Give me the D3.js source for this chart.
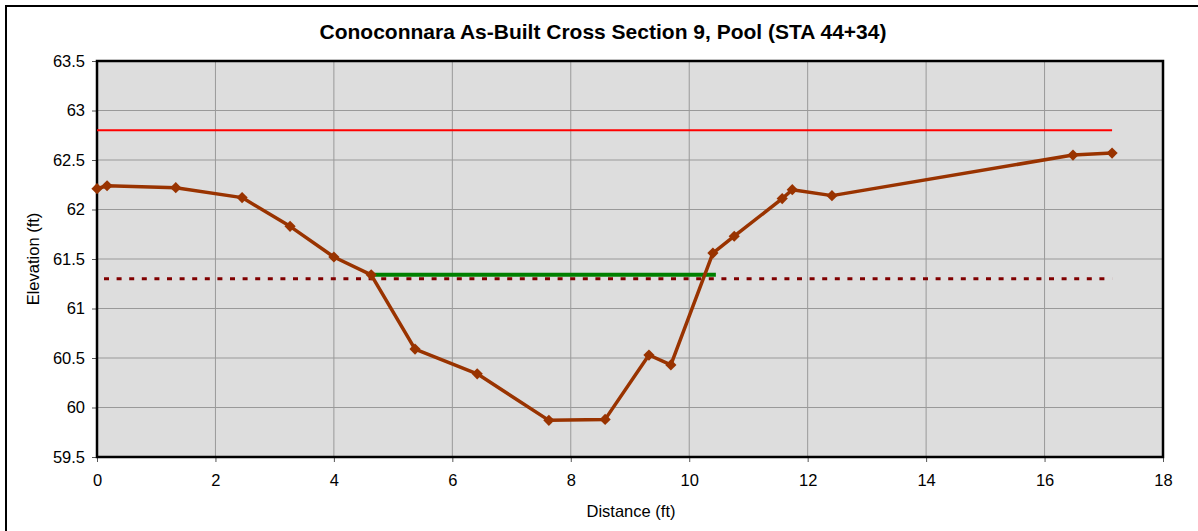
<!DOCTYPE html>
<html><head><meta charset="utf-8">
<script src="https://cdn.jsdelivr.net/npm/d3@7/dist/d3.min.js"></script>
<style>
body{margin:0;background:#fff;}
text{font-family:"Liberation Sans",Arial,sans-serif;}
</style></head>
<body><svg id="c" width="1198" height="531"></svg>
<script>
const title = "Conoconnara As-Built Cross Section 9, Pool (STA 44+34)";
const xLabel = "Distance (ft)";
const yLabel = "Elevation (ft)";
const distance = [0, 0.17, 1.33, 2.45, 3.26, 4.0, 4.63, 5.37, 6.42, 7.63, 8.58, 9.32, 9.69, 10.40, 10.76, 11.57, 11.74, 12.41, 16.48, 17.14];
const elevation = [62.21, 62.24, 62.22, 62.12, 61.83, 61.52, 61.34, 60.59, 60.34, 59.87, 59.88, 60.53, 60.43, 61.56, 61.73, 62.11, 62.20, 62.14, 62.55, 62.57];
const bankfullX = [0, 17.14];
const bankfullY = [62.8, 62.8];
const dashedX = [0, 17.14];
const dashedY = [61.3, 61.3];
const waterX = [4.63, 10.45];
const waterY = [61.34, 61.34];
const xTicks = [0, 2, 4, 6, 8, 10, 12, 14, 16, 18];
const yTicks = [59.5, 60, 60.5, 61, 61.5, 62, 62.5, 63, 63.5];

const svg = d3.select("#c");
const L = 97, R = 1163, T = 61, B = 457;
const x = d3.scaleLinear().domain([0, 18]).range([L, R]);
const y = d3.scaleLinear().domain([59.5, 63.5]).range([B, T]);

// outer frame
svg.append("rect").attr("x", 6).attr("y", 6).attr("width", 1210).attr("height", 560)
  .attr("fill", "#fff").attr("stroke", "#000").attr("stroke-width", 2);

// plot background
svg.append("rect").attr("x", L).attr("y", T).attr("width", R - L).attr("height", B - T).attr("fill", "#dddddd");

// grid
svg.append("g").selectAll("line").data(xTicks).join("line")
  .attr("x1", d => x(d)).attr("x2", d => x(d)).attr("y1", T).attr("y2", B)
  .attr("stroke", "#999").attr("stroke-width", 1);
svg.append("g").selectAll("line").data(yTicks).join("line")
  .attr("x1", L).attr("x2", R).attr("y1", d => y(d)).attr("y2", d => y(d))
  .attr("stroke", "#999").attr("stroke-width", 1);

// axes
const xAxis = svg.append("g").attr("transform", `translate(0,${B})`)
  .call(d3.axisBottom(x).tickValues(xTicks).tickFormat(d3.format("d")).tickSize(5).tickSizeOuter(0));
const yAxis = svg.append("g").attr("transform", `translate(${L},0)`)
  .call(d3.axisLeft(y).tickValues(yTicks).tickFormat(d => String(d)).tickSize(5).tickSizeOuter(0));
[xAxis, yAxis].forEach(a => {
  a.select(".domain").remove();
  a.selectAll(".tick line").attr("stroke", "#555");
  a.selectAll("text").attr("font-size", 16.5).attr("fill", "#000").attr("font-family", "Liberation Sans, Arial, sans-serif");
});
xAxis.selectAll("text").attr("dy", "0.71em").attr("y", 17);
yAxis.selectAll("text").attr("x", -12);

// plot border
svg.append("rect").attr("x", L).attr("y", T).attr("width", R - L).attr("height", B - T)
  .attr("fill", "none").attr("stroke", "#000").attr("stroke-width", 2.5);

const line = d3.line().x(d => x(d[0])).y(d => y(d[1]));

// bankfull (red)
svg.append("path").datum(d3.zip(bankfullX, bankfullY)).attr("d", line)
  .attr("stroke", "#ff0000").attr("stroke-width", 2).attr("fill", "none");
// dashed
svg.append("path").datum(d3.zip(dashedX, dashedY)).attr("d", line)
  .attr("stroke", "#800000").attr("stroke-width", 3).attr("fill", "none")
  .attr("stroke-dasharray", "5,7.6").attr("stroke-dashoffset", -7);
// water surface (green)
svg.append("path").datum(d3.zip(waterX, waterY)).attr("d", line)
  .attr("stroke", "#008000").attr("stroke-width", 4).attr("fill", "none");

// cross section
const pts = d3.zip(distance, elevation);
svg.append("path").datum(pts).attr("d", line)
  .attr("stroke", "#993300").attr("stroke-width", 3.5).attr("fill", "none").attr("stroke-linejoin", "round");
svg.append("g").selectAll("path").data(pts).join("path")
  .attr("d", d3.symbol().type(d3.symbolDiamond2).size(80))
  .attr("transform", d => `translate(${x(d[0])},${y(d[1])})`)
  .attr("fill", "#993300");

// texts
svg.append("text").attr("x", 603).attr("y", 39).attr("text-anchor", "middle")
  .attr("font-size", 21).attr("font-weight", "bold").text(title);
svg.append("text").attr("x", 631).attr("y", 517).attr("text-anchor", "middle")
  .attr("font-size", 16.5).text(xLabel);
svg.append("text").attr("transform", `translate(39,${(T + B) / 2}) rotate(-90)`).attr("text-anchor", "middle")
  .attr("font-size", 16.5).text(yLabel);
</script></body></html>
